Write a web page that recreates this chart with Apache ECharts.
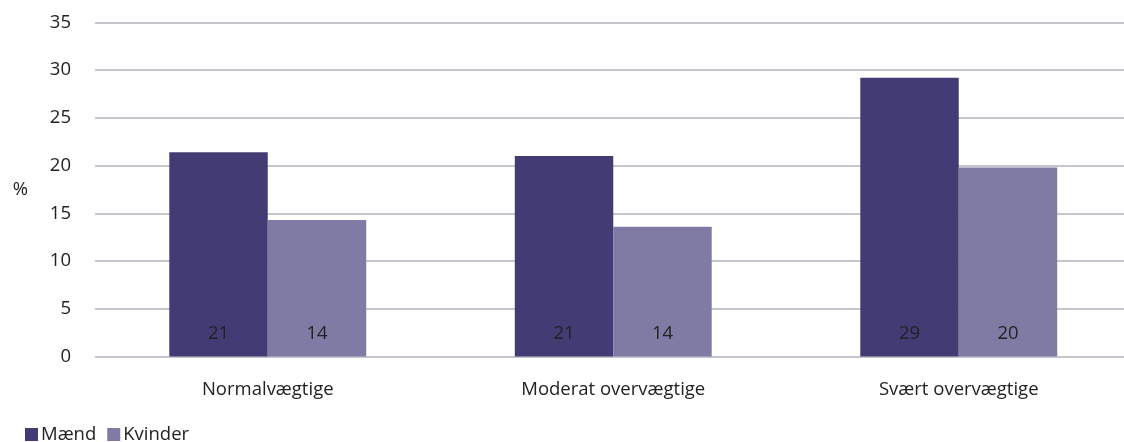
<!DOCTYPE html>
<html><head><meta charset="utf-8">
<script src="https://cdn.jsdelivr.net/npm/echarts@6/dist/echarts.min.js"></script>
<style>html,body{margin:0;padding:0;background:#fff;overflow:hidden}#c{width:1140px;height:442px}</style>
</head><body><div id="c"></div>
<script>
var categories = ['Normalvægtige', 'Moderat overvægtige', 'Svært overvægtige'];
var maend = [21.4, 21.0, 29.2];
var kvinder = [14.3, 13.6, 19.8];
var maendLabels = ['21', '21', '29'];
var kvinderLabels = ['14', '14', '20'];
var yTicks = [0, 5, 10, 15, 20, 25, 30, 35];

var FONT = 'Open Sans';
var FS = 18.5;
var chart = echarts.init(document.getElementById('c'));
function lbl(arr){
  return {show:true, position:'insideBottom', distance:13, color:'#222', fontFamily:FONT, fontSize:FS,
    formatter:function(p){return arr[p.dataIndex];}};
}
chart.setOption({
  animation:false,
  textStyle:{fontFamily:FONT},
  grid:{left:95, top:22.5, width:1036.5, height:334, containLabel:false},
  legend:{left:20, top:420, itemWidth:13, itemHeight:13, itemGap:11,
    icon:'rect', textStyle:{fontFamily:FONT, fontSize:FS, color:'#222', padding:[0,0,0,-2]},
    data:['Mænd','Kvinder']},
  xAxis:{type:'category', data:categories,
    axisLine:{show:false}, axisTick:{show:false},
    axisLabel:{color:'#222', fontSize:FS, fontFamily:FONT, margin:24}},
  yAxis:{type:'value', min:yTicks[0], max:yTicks[yTicks.length-1], interval:5,
    name:'%', nameLocation:'middle', nameRotate:0, nameGap:67,
    nameTextStyle:{color:'#222', fontSize:FS, fontFamily:FONT},
    axisLine:{show:false}, axisTick:{show:false},
    axisLabel:{color:'#222', fontSize:FS, fontFamily:FONT, margin:24},
    splitLine:{lineStyle:{color:'#c3c6ca', width:2}}},
  series:[
    {name:'Mænd', type:'bar', data:maend, barGap:'0%', barCategoryGap:'43%',
      itemStyle:{color:'#433b73'}, label:lbl(maendLabels)},
    {name:'Kvinder', type:'bar', data:kvinder, barGap:'0%', barCategoryGap:'43%',
      itemStyle:{color:'#7f7ba5'}, label:lbl(kvinderLabels)}
  ]
});
</script></body></html>
